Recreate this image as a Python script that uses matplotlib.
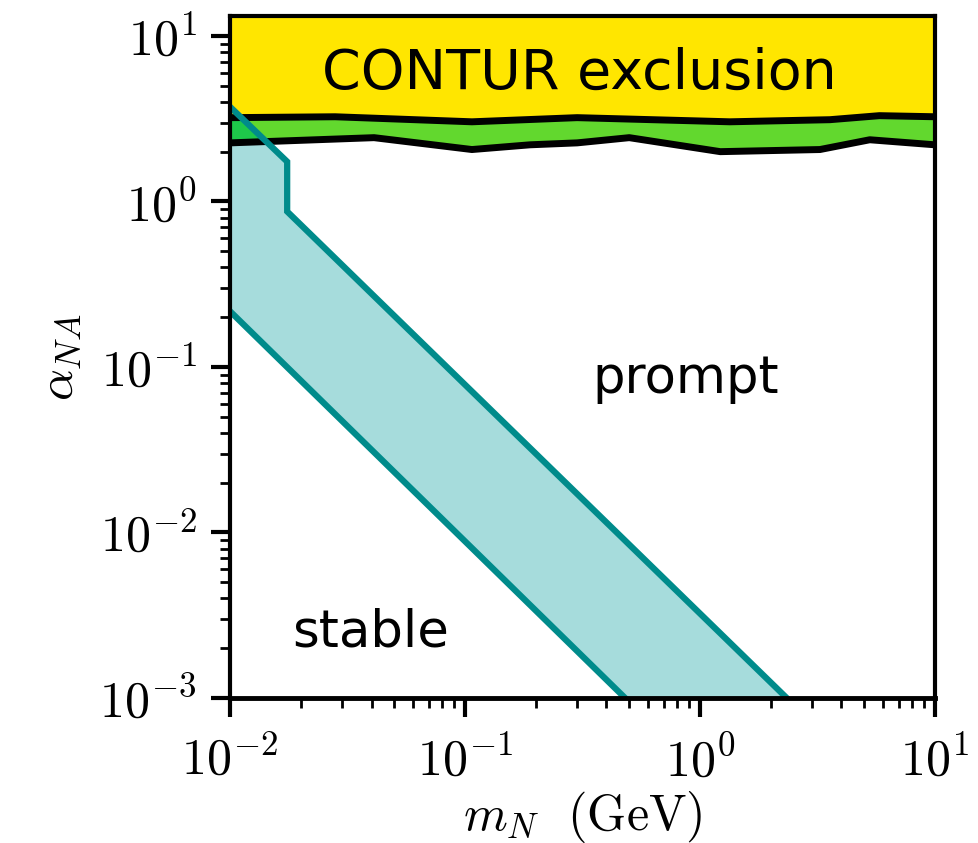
import numpy as np
import matplotlib
matplotlib.use('Agg')
import matplotlib.pyplot as plt
from matplotlib.ticker import LogLocator, FuncFormatter, NullFormatter

plt.rcParams['mathtext.fontset'] = 'cm'

# CONTUR exclusion band edges
excl_upper_x = [0.01, 0.028, 0.107, 0.30, 1.34, 3.57, 5.8, 10]
excl_upper_y = [3.21, 3.25, 3.03, 3.21, 3.03, 3.12, 3.30, 3.25]
excl_lower_x = [0.01, 0.041, 0.107, 0.189, 0.30, 0.50, 1.22, 3.24, 5.28, 10]
excl_lower_y = [2.26, 2.43, 2.06, 2.20, 2.26, 2.43, 2.00, 2.06, 2.36, 2.20]

# displaced-vertex band edges
band_upper_x = [0.01, 0.0175, 0.0175, 2.34]
band_upper_y = [3.73, 1.74, 0.87, 1e-3]
band_lower_x = [0.01, 0.48]
band_lower_y = [0.217, 1e-3]

xlim = (1e-2, 1e1)
ylim = (1e-3, 13.2)

fig = plt.figure(figsize=(9.79, 8.43), dpi=100)
ax = fig.add_axes([0.235, 0.172, 0.720, 0.809])
ax.set_xscale('log')
ax.set_yscale('log')

# band between the two teal lines
band_x = band_upper_x + band_lower_x[::-1]
band_y = band_upper_y + band_lower_y[::-1]
ax.fill(band_x, band_y, color='#a6dcdc', lw=0, zorder=1)

# green part of the exclusion
green_x = excl_upper_x + excl_lower_x[::-1]
green_y = excl_upper_y + excl_lower_y[::-1]
green = ax.fill(green_x, green_y, color='#62d82e', lw=0, zorder=2)[0]
# where the teal band shows through the green
overlap = ax.fill(band_x, band_y, color='#1ec84a', lw=0, zorder=2.1)[0]
overlap.set_clip_path(green)

# yellow part, from the upper edge to the top of the frame
yel_x = excl_upper_x + [xlim[1], xlim[0]]
yel_y = excl_upper_y + [100, 100]
ax.fill(yel_x, yel_y, color='#ffe600', lw=0, zorder=3)

ax.plot(excl_upper_x, excl_upper_y, color='black', lw=5, zorder=4, solid_capstyle='butt')
ax.plot(excl_lower_x, excl_lower_y, color='black', lw=5, zorder=4, solid_capstyle='butt')

ax.plot(band_upper_x, band_upper_y, color='#008b8b', lw=4.5, zorder=5, solid_joinstyle='miter')
ax.plot(band_lower_x, band_lower_y, color='#008b8b', lw=4.5, zorder=5)

ax.set_xlim(*xlim)
ax.set_ylim(*ylim)

# region labels
txt_font = dict(family='DejaVu Sans', color='black')
ax.text(0.496, 0.894, 'CONTUR exclusion', transform=ax.transAxes, ha='center', va='baseline',
        fontsize=40, zorder=6, **txt_font)
ax.text(0.647, 0.447, 'prompt', transform=ax.transAxes, ha='center', va='baseline',
        fontsize=37, zorder=6, **txt_font)
ax.text(0.199, 0.075, 'stable', transform=ax.transAxes, ha='center', va='baseline',
        fontsize=37, zorder=6, **txt_font)

# axes styling
for s in ax.spines.values():
    s.set_linewidth(3)
    s.set_zorder(10)
ax.spines['bottom'].set_linewidth(3.5)

fmt = FuncFormatter(lambda v, p: r'$10^{%d}$' % round(np.log10(v)))
for axis in (ax.xaxis, ax.yaxis):
    axis.set_major_locator(LogLocator(base=10, numticks=10))
    axis.set_minor_locator(LogLocator(base=10, subs=np.arange(2, 10), numticks=10))
    axis.set_major_formatter(fmt)
    axis.set_minor_formatter(NullFormatter())

ax.tick_params(which='major', length=14, width=3, labelsize=36, pad=10)
ax.tick_params(axis='x', which='major', pad=14)
ax.tick_params(which='minor', length=7, width=2)

ax.set_xlabel(r'$m_N\ \ (\mathrm{GeV})$', fontsize=36, labelpad=2)
ax.set_ylabel(r'$\alpha_{NA}$', fontsize=36, labelpad=12)

fig.savefig('out.png', dpi=100)
